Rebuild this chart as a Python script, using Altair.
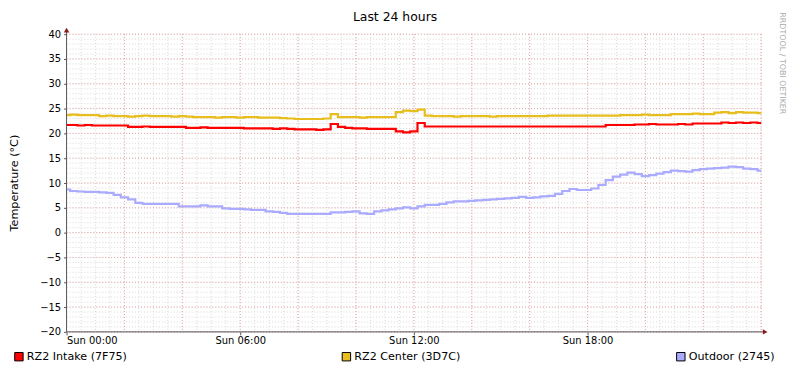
import altair as alt
import pandas as pd
import numpy as np

# ---------------- data ----------------
series_names = ["RZ2 Intake (7F75)", "RZ2 Center (3D7C)", "Outdoor (2745)"]
series_colors = ["#FF0000", "#E8BE1E", "#AAAAFF"]
x_tick_hours = [0, 6, 12, 18]
x_tick_labels = ["Sun 00:00", "Sun 06:00", "Sun 12:00", "Sun 18:00"]
y_ticks = [-20, -15, -10, -5, 0, 5, 10, 15, 20, 25, 30, 35, 40]
title_text = "Last 24 hours"
y_title = "Temperature (°C)"
credit_text = "RRDTOOL / TOBI OETIKER"

# one value every 15 minutes, 00:00 .. 24:00
intake = [21.7, 21.7,
          21.6, 21.7, 21.6, 21.6, 21.6, 21.6, 21.6,
          21.3, 21.3, 21.4, 21.3, 21.3, 21.3, 21.3, 21.3,
          21.1, 21.1, 21.2, 21.1, 21.1, 21.1, 21.1, 21.1,
          21.0, 21.0, 21.0, 21.0, 20.9, 21.0, 20.9,
          20.8, 20.8, 20.8, 20.7, 20.8,
          21.9,
          21.3,
          21.1, 21.0, 21.0, 20.9, 20.9, 20.9, 20.9,
          20.4, 20.2, 20.4,
          22.1, 21.4,
          21.4, 21.4, 21.4, 21.4, 21.4, 21.4, 21.4, 21.4, 21.4, 21.4, 21.4, 21.4,
          21.4, 21.4, 21.4, 21.4, 21.4, 21.4, 21.4, 21.4, 21.4, 21.4, 21.4, 21.4,
          21.7, 21.7, 21.7, 21.7,
          21.8, 21.8, 21.9, 21.8, 21.8, 21.8, 21.9, 21.8,
          22.0, 22.0, 22.0, 22.0,
          22.2, 22.1, 22.2, 22.1, 22.2, 22.1]

center = [23.7, 23.8, 23.7, 23.7, 23.7,
          23.5, 23.6, 23.5, 23.5, 23.4, 23.5, 23.6, 23.5, 23.5, 23.5, 23.4, 23.5, 23.4,
          23.3, 23.3, 23.3, 23.2, 23.3, 23.3, 23.2, 23.3, 23.3, 23.2, 23.2, 23.2,
          23.1, 23.0, 22.9, 22.9, 22.9, 22.9, 23.0,
          23.9,
          23.3, 23.3, 23.3, 23.2, 23.3, 23.3, 23.3, 23.3,
          24.3, 24.6, 24.5, 24.8,
          23.6,
          23.5, 23.5, 23.5, 23.4, 23.5, 23.5, 23.5, 23.5, 23.4, 23.5, 23.5, 23.5,
          23.5, 23.5, 23.5, 23.5,
          23.6, 23.6, 23.6, 23.6, 23.6, 23.6, 23.6, 23.6, 23.6, 23.6,
          23.7, 23.7, 23.7, 23.8, 23.7, 23.7, 23.7,
          23.9, 23.9, 23.9, 24.0, 23.9, 23.9,
          24.2, 24.3, 24.1, 24.3, 24.2, 24.2, 24.1]

outdoor = [8.7, 8.4, 8.3, 8.2, 8.2, 8.1, 8.0, 7.6, 7.1, 6.7,
           6.0, 5.8, 5.8, 5.8, 5.8, 5.8, 5.3, 5.3, 5.3, 5.5,
           5.3, 5.3, 4.9, 4.8, 4.8, 4.7, 4.6, 4.6, 4.3, 4.2,
           4.0, 3.8, 3.8, 3.8, 3.8, 3.8, 3.8, 4.1, 4.1, 4.2,
           4.3, 3.9, 3.8, 4.3, 4.5, 4.7, 4.9, 5.1, 4.9, 5.3,
           5.6, 5.6, 5.8, 6.1, 6.3, 6.3, 6.4, 6.5, 6.6, 6.7,
           6.8, 6.9, 7.0, 7.2, 7.0, 7.1, 7.3, 7.4, 7.8, 8.4,
           8.8, 8.6, 8.6, 8.9, 9.6, 10.6, 11.3, 11.7, 12.1, 11.8,
           11.4, 11.6, 11.9, 12.2, 12.5, 12.4, 12.3, 12.6, 12.8, 12.9,
           13.0, 13.1, 13.3, 13.2, 12.9, 12.8, 12.5]

hours = [i * 0.25 for i in range(len(intake))]

rows = []
for name, vals in zip(series_names, [intake, center, outdoor]):
    for h, v in zip(hours, vals):
        rows.append({"hour": h, "value": v, "series": name})
df = pd.DataFrame(rows)

W, H = 700, 300
FONT = "DejaVu Sans"
xs = alt.Scale(domain=[0, 24], nice=False, zero=False)
ys = alt.Scale(domain=[-20, 40], nice=False, zero=False)
one = alt.Data(values=[{"a": 1}])

label_expr = "'Sun ' + (datum.value < 10 ? '0' : '') + datum.value + ':00'"
x_axis = alt.Axis(values=x_tick_hours, labelExpr=label_expr, title=None,
                  grid=False, domain=False, tickSize=3, tickColor="#555",
                  labelFont=FONT, labelFontSize=10, labelColor="#000",
                  labelPadding=1)
y_axis = alt.Axis(values=y_ticks, title=None, grid=False, domain=False,
                  tickSize=3, tickColor="#555", labelFont=FONT,
                  labelFontSize=10, labelColor="#000", labelPadding=3)

# ---------------- grid ----------------
minor_v = alt.Chart(alt.sequence(0, 24.01, 0.5, as_="g")).mark_rule(
    color="#d8d8d8", strokeWidth=1, strokeDash=[1, 2]
).encode(x=alt.X("g:Q", scale=xs, axis=x_axis))
minor_h = alt.Chart(alt.sequence(-20, 40.01, 1, as_="g")).mark_rule(
    color="#d8d8d8", strokeWidth=1, strokeDash=[1, 2]
).encode(y=alt.Y("g:Q", scale=ys, axis=y_axis))
major_v = alt.Chart(alt.sequence(0, 24.01, 2, as_="g")).mark_rule(
    color="#e8a4a4", strokeWidth=1, strokeDash=[1, 2]
).encode(x=alt.X("g:Q", scale=xs, axis=x_axis))
major_h = alt.Chart(alt.sequence(-20, 40.01, 5, as_="g")).mark_rule(
    color="#e8a4a4", strokeWidth=1, strokeDash=[1, 2]
).encode(y=alt.Y("g:Q", scale=ys, axis=y_axis))

# ---------------- lines ----------------
lines = alt.Chart(df).mark_line(strokeWidth=2.2, interpolate="step").encode(
    x=alt.X("hour:Q", scale=xs, axis=x_axis),
    y=alt.Y("value:Q", scale=ys, axis=y_axis),
    color=alt.Color("series:N", scale=alt.Scale(domain=series_names, range=series_colors),
                    legend=None),
    order=alt.Order("hour:Q"),
)

# ---------------- axes lines & arrows ----------------
y_line = alt.Chart(one).mark_rule(color="#555", strokeWidth=1).encode(
    x=alt.value(0), y=alt.value(-4), y2=alt.value(H))
x_line = alt.Chart(one).mark_rule(color="#555", strokeWidth=1).encode(
    x=alt.value(0), x2=alt.value(W + 4), y=alt.value(H))
y_arrow = alt.Chart(one).mark_point(shape="triangle-up", filled=True, color="#8B1A1A",
                                    size=30, opacity=1).encode(
    x=alt.value(0), y=alt.value(-4))
x_arrow = alt.Chart(one).mark_point(shape="triangle-right", filled=True, color="#8B1A1A",
                                    size=30, opacity=1).encode(
    x=alt.value(W + 4), y=alt.value(H))

# ---------------- texts ----------------
title = alt.Chart(one).mark_text(font=FONT, fontSize=12.5, color="#000",
                                 align="center", baseline="middle").encode(
    x=alt.value(331), y=alt.value(-17), text=alt.value(title_text))
ytitle = alt.Chart(one).mark_text(font=FONT, fontSize=11.3, color="#000", angle=270,
                                  align="center", baseline="middle").encode(
    x=alt.value(-52), y=alt.value(150), text=alt.value(y_title))
credit = alt.Chart(one).mark_text(font=FONT, fontSize=8, color="#aaaaaa", angle=90,
                                  align="left", baseline="middle").encode(
    x=alt.value(721), y=alt.value(-22), text=alt.value(credit_text))

legend_layers = []
legend_x = [-48, 282, 619]
for name, col, lx in zip(series_names, series_colors, legend_x):
    legend_layers.append(
        alt.Chart(one).mark_square(size=72, filled=True, color=col, stroke="#000",
                                   strokeWidth=1, opacity=1).encode(
            x=alt.value(lx), y=alt.value(325)))
    legend_layers.append(
        alt.Chart(one).mark_text(font=FONT, fontSize=11.2, color="#000", align="left",
                                 baseline="middle").encode(
            x=alt.value(lx + 8), y=alt.value(325.5), text=alt.value(name)))

chart = alt.layer(
    minor_v, minor_h, major_v, major_h, lines, y_line, x_line, y_arrow, x_arrow,
    title, ytitle, credit, *legend_layers
).properties(
    width=W, height=H,
    autosize=alt.AutoSizeParams(type="none"),
    padding={"left": 59, "top": 25, "right": 28, "bottom": 34},
    background="#ffffff",
).configure_view(stroke=None)

chart.save("out.html", embed_options={"renderer": "svg", "actions": False})
